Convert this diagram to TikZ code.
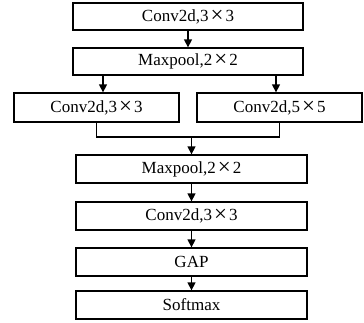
\documentclass[tikz,border=0pt]{standalone}
\usepackage{fontspec}
\setmainfont{Liberation Serif}
\usetikzlibrary{arrows.meta,calc}
\begin{document}
\begin{tikzpicture}[x=1pt,y=-1pt,
  blk/.style={draw,line width=1.3pt,inner sep=0pt,minimum height=27pt,font=\fontsize{17}{20}\selectfont},
  arr/.style={line width=1.3pt,-{Triangle[length=8pt,width=8pt]}},
  ln/.style={line width=1.3pt}]
\useasboundingbox (0,0) rectangle (364,322);
\newcommand{\tms}{\makebox[1em]{\raisebox{-0.08em}{\scalebox{1.35}{×}}}}
\node[blk,minimum width=230pt] (b1) at (188,16.5) {Conv2d,3\tms3};
\node[blk,minimum width=230pt] (b2) at (188,61.5) {Maxpool,2\tms2};
\node[blk,minimum width=165pt,minimum height=29pt] (b3) at (96.5,107.5) {Conv2d,3\tms3};
\node[blk,minimum width=165pt,minimum height=29pt] (b4) at (279.5,107.5) {Conv2d,5\tms5};
\node[blk,minimum width=231pt,minimum height=28pt] (b5) at (191.5,169) {Maxpool,2\tms2};
\node[blk,minimum width=231pt,minimum height=28pt] (b6) at (191.5,216) {Conv2d,3\tms3};
\node[blk,minimum width=231pt,minimum height=28pt] (b7) at (191.5,262) {GAP};
\node[blk,minimum width=231pt,minimum height=28pt] (b8) at (191.5,305) {Softmax};
\draw[arr] (b1) -- (b2);
\draw[arr] ([xshift=-85pt]b2.south) -- ([xshift=-85pt]b2.south |- b3.north);
\draw[arr] ([xshift=88pt]b2.south) -- ([xshift=88pt]b2.south |- b4.north);
\coordinate (j) at (191.5,137);
\draw[ln] (b3.south) |- (j) -| (b4.south);
\draw[arr] (j) -- (b5.north);
\draw[arr] (b5) -- (b6);
\draw[arr] (b6) -- (b7);
\draw[arr] (b7) -- (b8);
\end{tikzpicture}
\end{document}
